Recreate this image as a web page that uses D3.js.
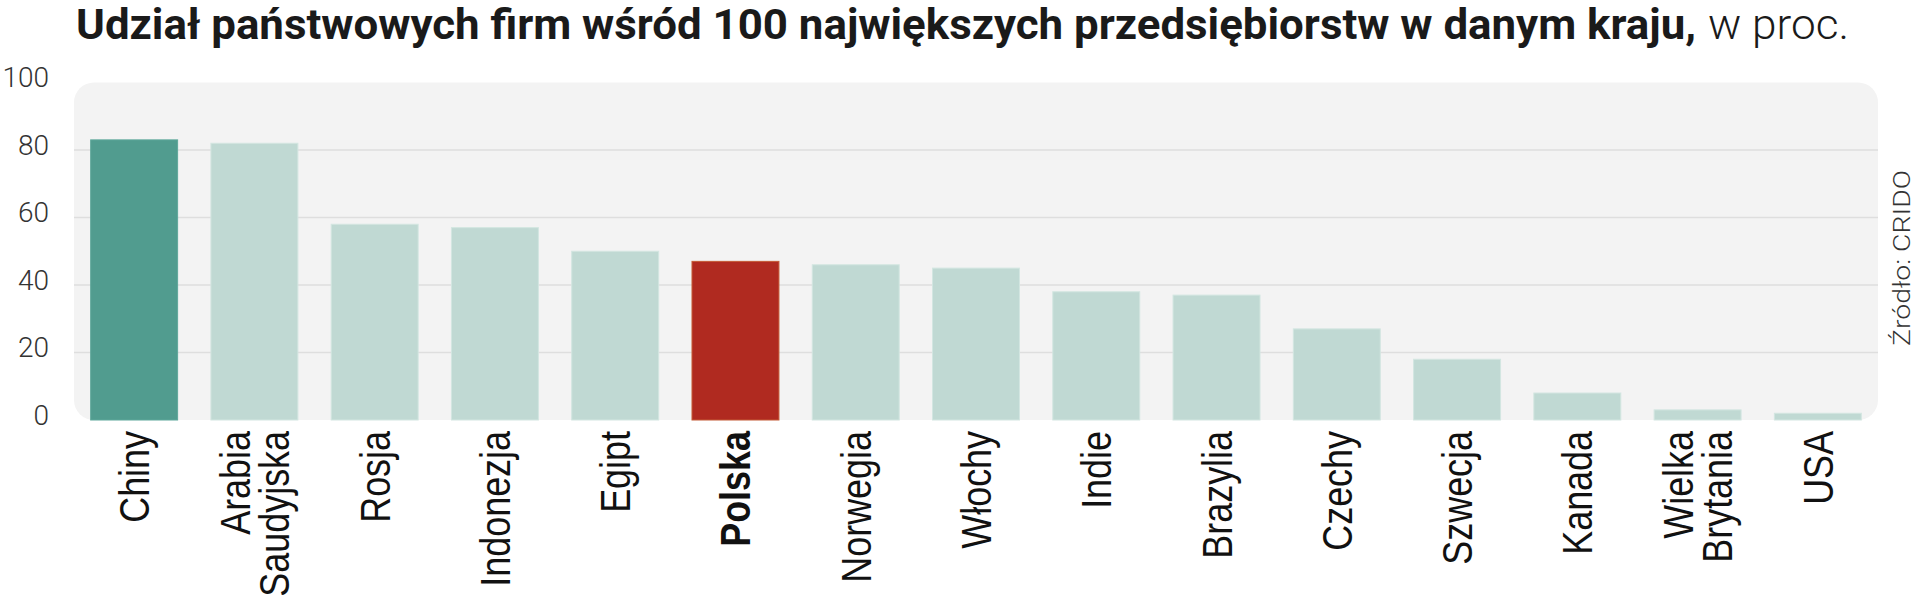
<!DOCTYPE html>
<html>
<head>
<meta charset="utf-8">
<script src="https://cdn.jsdelivr.net/npm/d3@7"></script>
<style>
  html, body { margin: 0; padding: 0; background: #ffffff; }
  svg { display: block; }
</style>
</head>
<body>
<svg id="chart" width="1920" height="601"></svg>
<script>
// ---- data ----
const categories = ["Chiny", "Arabia Saudyjska", "Rosja", "Indonezja", "Egipt", "Polska", "Norwegia", "Włochy", "Indie", "Brazylia", "Czechy", "Szwecja", "Kanada", "Wielka Brytania", "USA"];
const values = [83, 82, 58, 57, 50, 47, 46, 45, 38, 37, 27, 18, 8, 3, 2];
const yTicks = [0, 20, 40, 60, 80, 100];
const highlightChina = "Chiny";
const highlightPoland = "Polska";
const titleBold = "Udział państwowych firm wśród 100 największych przedsiębiorstw w danym kraju,";
const titleLight = "w proc.";
const sourceText = "Źródło: CRIDO";

// ---- layout ----
const svg = d3.select("#chart");
const panel = { x0: 74, x1: 1878, y0: 82.5, y1: 420 };

const x = d3.scaleBand()
  .domain(categories)
  .range([panel.x0, panel.x1])
  .paddingInner(0.277)
  .paddingOuter(0.1385);

const y = d3.scaleLinear()
  .domain([0, 100])
  .range([panel.y1, panel.y0]);

// panel background
svg.append("rect")
  .attr("x", panel.x0)
  .attr("y", y(100))
  .attr("width", panel.x1 - panel.x0)
  .attr("height", y(0) - y(100))
  .attr("rx", 20)
  .attr("fill", "#f3f3f3");

// gridlines
svg.append("g")
  .selectAll("line")
  .data(yTicks.filter(t => t > 0 && t < 100))
  .join("line")
  .attr("x1", panel.x0)
  .attr("x2", panel.x1)
  .attr("y1", d => y(d))
  .attr("y2", d => y(d))
  .attr("stroke", "#dedede")
  .attr("stroke-width", 1.6);

// y tick labels
svg.append("g")
  .selectAll("text")
  .data(yTicks)
  .join("text")
  .attr("x", 49)
  .attr("y", d => y(d) - 5)
  .attr("text-anchor", "end")
  .attr("dominant-baseline", "central")
  .attr("font-family", "Roboto, 'Open Sans', 'Liberation Sans', sans-serif")
  .attr("font-weight", 300)
  .attr("font-size", 28)
  .attr("fill", "#333")
  .text(d => d);

// bars
const fillFor = c => c === highlightChina ? "#519c8f" : (c === highlightPoland ? "#b02a20" : "#c0d9d3");
const strokeFor = c => c === highlightChina ? "#5fa89b" : (c === highlightPoland ? "#c45a36" : "#d3e6e1");

svg.append("g")
  .selectAll("rect")
  .data(categories.map((c, i) => ({ c, v: values[i] })))
  .join("rect")
  .attr("x", d => x(d.c))
  .attr("y", d => y(d.v))
  .attr("width", x.bandwidth())
  .attr("height", d => y(0) - y(d.v))
  .attr("fill", d => fillFor(d.c))
  .attr("stroke", d => strokeFor(d.c))
  .attr("stroke-width", 1);

// category labels (rotated)
const lineGap = 38.6;
const labelG = svg.append("g");
categories.forEach(c => {
  const lines = c.split(" ");
  const cx = x(c) + x.bandwidth() / 2;
  const t = labelG.append("text")
    .attr("transform", `translate(${cx},431) rotate(-90) scale(0.855,1)`)
    .attr("text-anchor", "end")
    .attr("font-family", "'Liberation Sans', Arial, sans-serif")
    .attr("font-size", 42)
    .attr("font-weight", c === highlightPoland ? 700 : 400)
    .attr("fill", "#111");
  lines.forEach((ln, i) => {
    t.append("tspan")
      .attr("x", 0)
      .attr("y", 15 + (i - (lines.length - 1) / 2) * lineGap)
      .text(ln);
  });
});

// title
svg.append("text")
  .attr("x", 76)
  .attr("y", 39)
  .attr("font-family", "Roboto, 'Liberation Sans', sans-serif")
  .attr("font-weight", 700)
  .attr("font-size", 42)
  .attr("fill", "#1a1a1a")
  .attr("textLength", 1620)
  .attr("lengthAdjust", "spacingAndGlyphs")
  .text(titleBold);

svg.append("text")
  .attr("x", 1708)
  .attr("y", 39)
  .attr("font-family", "Roboto, 'Open Sans', 'Liberation Sans', sans-serif")
  .attr("font-weight", 300)
  .attr("font-size", 42)
  .attr("fill", "#1a1a1a")
  .attr("textLength", 141)
  .attr("lengthAdjust", "spacingAndGlyphs")
  .text(titleLight);

// source
svg.append("text")
  .attr("transform", "translate(1910,346) rotate(-90)")
  .attr("text-anchor", "start")
  .attr("font-family", "Roboto, 'Open Sans', 'Liberation Sans', sans-serif")
  .attr("font-weight", 300)
  .attr("font-size", 24)
  .attr("fill", "#333")
  .attr("textLength", 176)
  .attr("lengthAdjust", "spacingAndGlyphs")
  .text(sourceText);
</script>
</body>
</html>
